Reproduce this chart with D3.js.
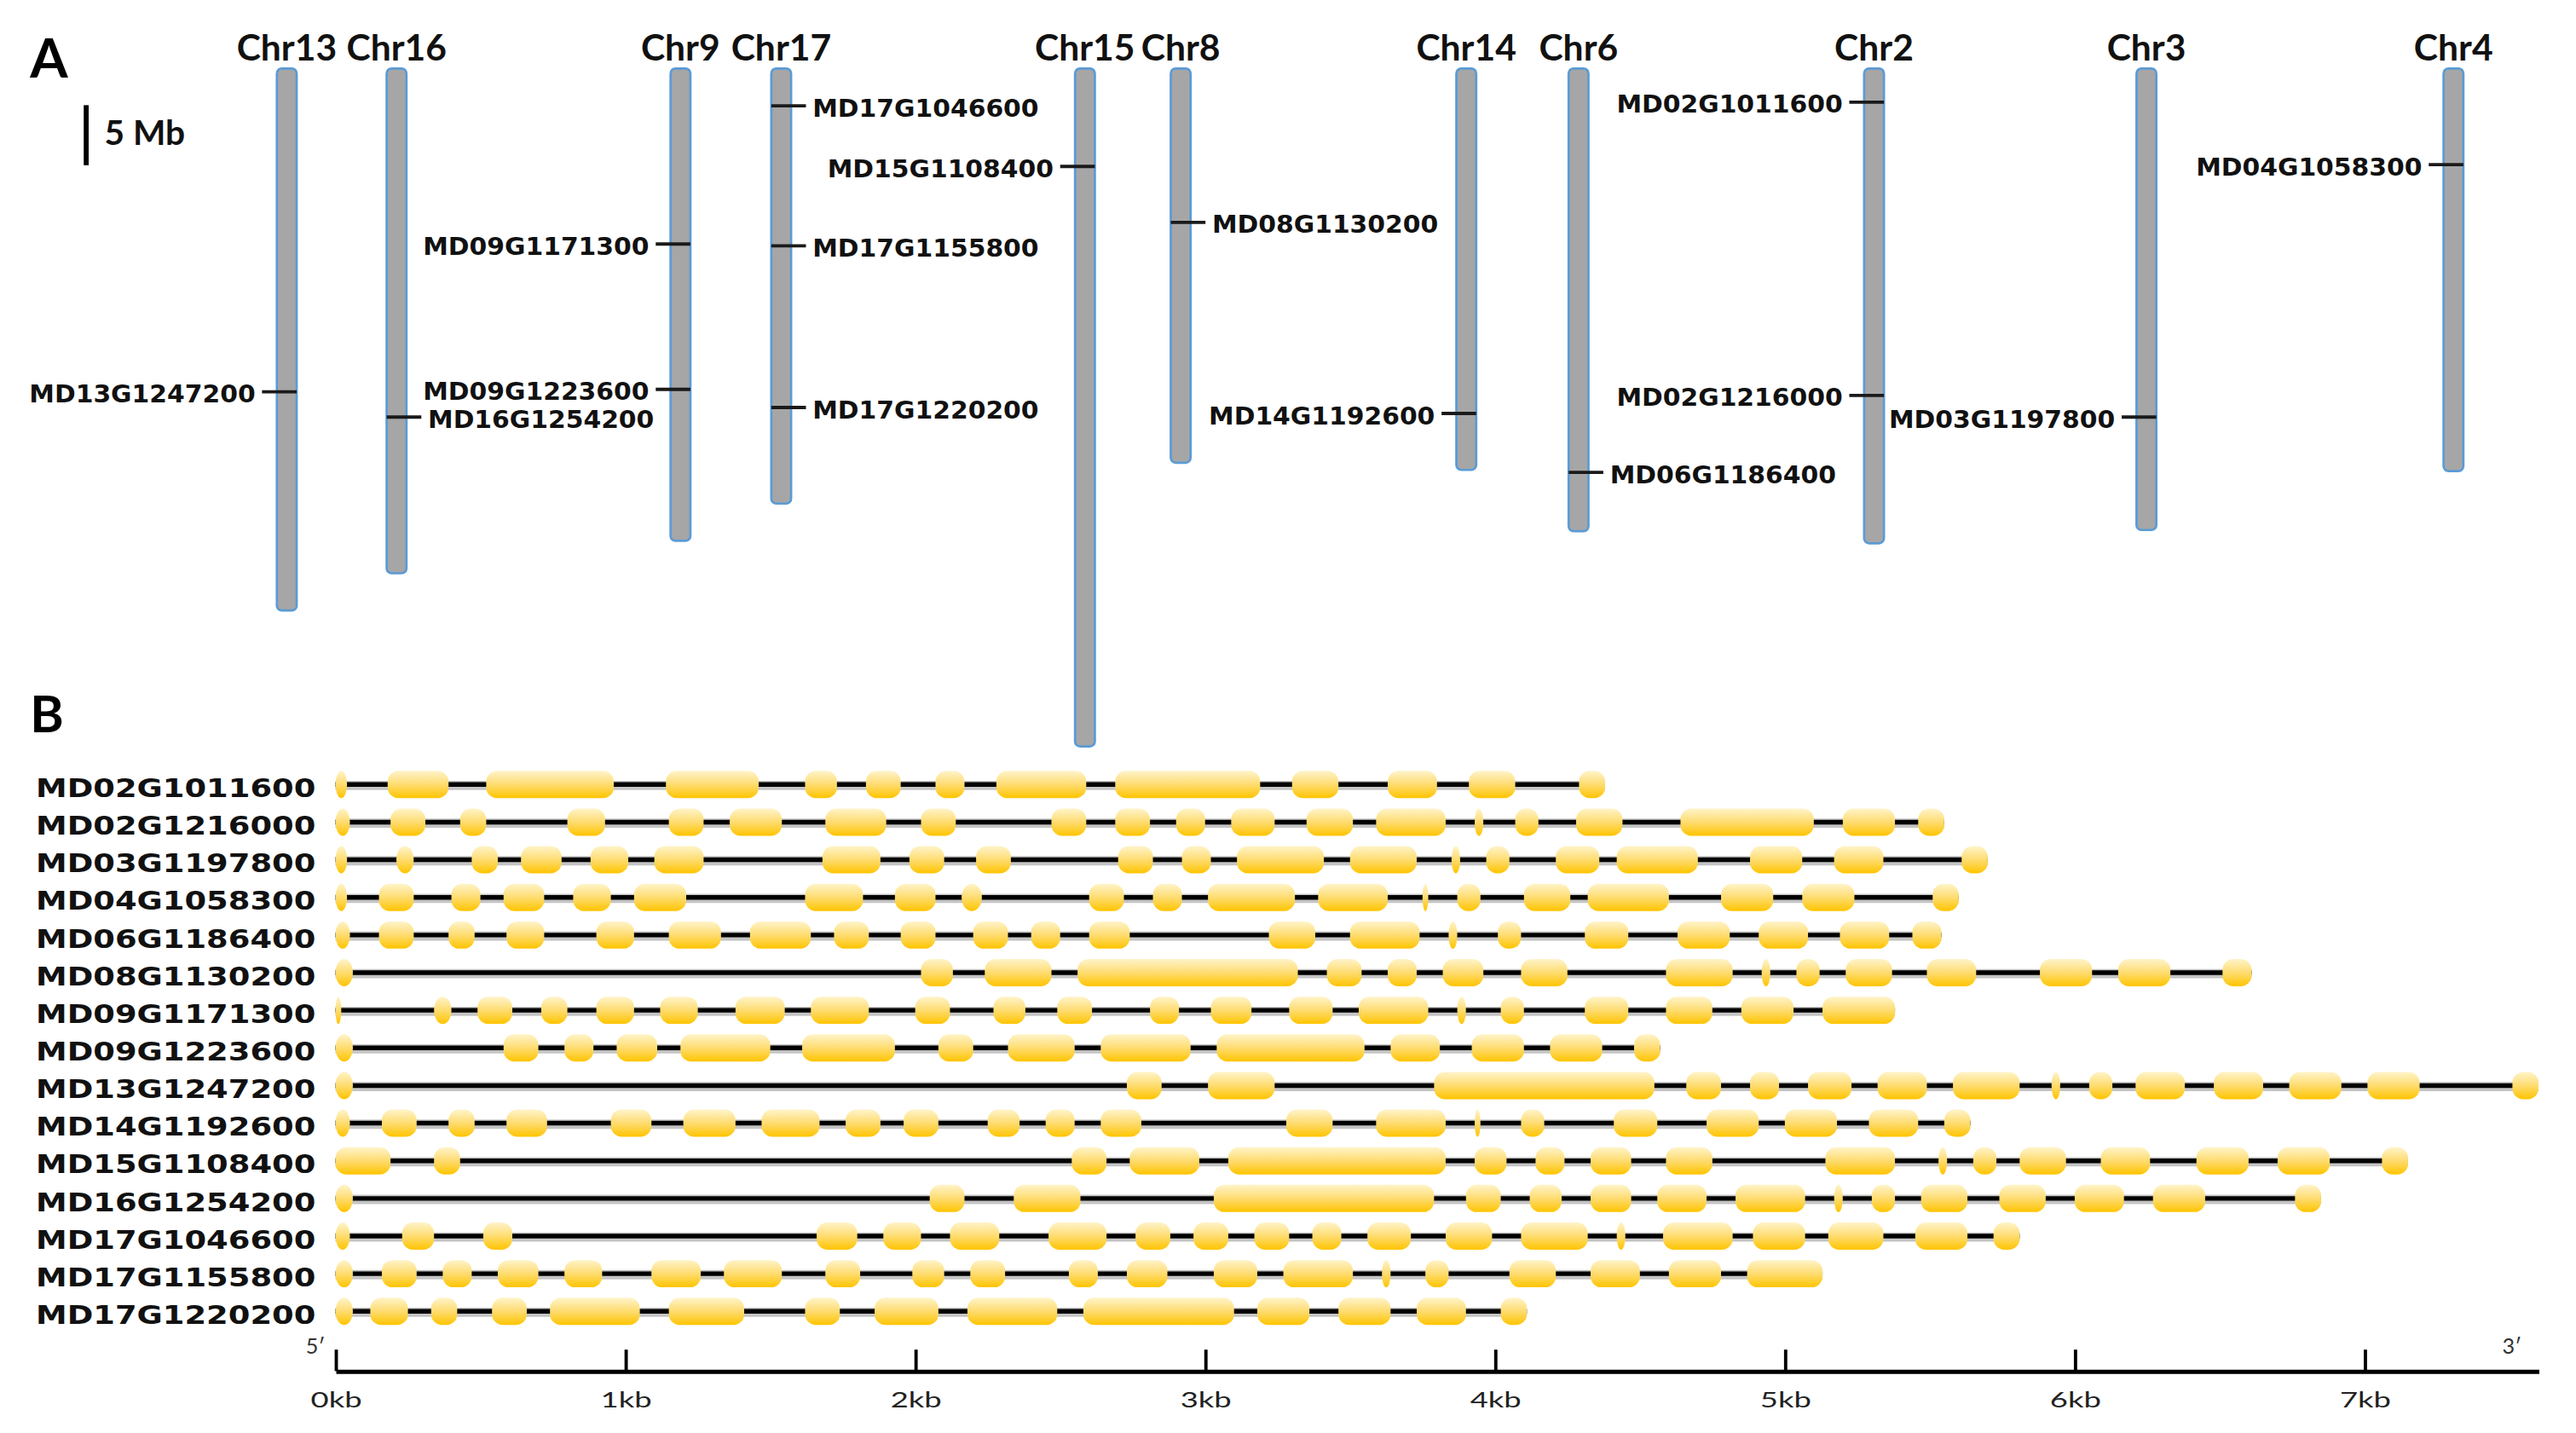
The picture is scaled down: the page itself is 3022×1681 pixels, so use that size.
<!DOCTYPE html>
<html>
<head>
<meta charset="utf-8">
<script src="https://cdn.jsdelivr.net/npm/d3@7"></script>
<style>
html,body{margin:0;padding:0;background:#fff;overflow:hidden}
svg{display:block}
</style>
</head>
<body>
<svg id="chart"></svg>
<script>
// ---------------- Panel A data ----------------
const chromosomes = ["Chr13","Chr16","Chr9","Chr17","Chr15","Chr8","Chr14","Chr6","Chr2","Chr3","Chr4"];
const chrLengthMb = [45.1, 42.0, 39.3, 36.2, 56.4, 32.8, 33.4, 38.5, 39.5, 38.4, 33.5];
const mappedGenes = ["MD13G1247200","MD16G1254200","MD09G1171300","MD09G1223600","MD17G1046600","MD17G1155800","MD17G1220200","MD15G1108400","MD08G1130200","MD14G1192600","MD06G1186400","MD02G1011600","MD02G1216000","MD03G1197800","MD04G1058300"];
const mappedChr = ["Chr13","Chr16","Chr9","Chr9","Chr17","Chr17","Chr17","Chr15","Chr8","Chr14","Chr6","Chr2","Chr2","Chr3","Chr4"];
const genePosMb = [26.9, 29.0, 14.6, 26.7, 3.1, 14.75, 28.2, 8.15, 12.8, 28.7, 33.6, 2.8, 27.2, 29.0, 8.0];
const labelSide = ["left","right","left","left","right","right","right","left","right","left","right","left","left","left","left"];
const scaleBarMb = 5;

// ---------------- Panel B data (exon start/end, kb) ----------------
const structureGenes = ["MD02G1011600","MD02G1216000","MD03G1197800","MD04G1058300","MD06G1186400","MD08G1130200","MD09G1171300","MD09G1223600","MD13G1247200","MD14G1192600","MD15G1108400","MD16G1254200","MD17G1046600","MD17G1155800","MD17G1220200"];
const ex_MD02G1011600 = [[0,0.04],[0.18,0.39],[0.52,0.96],[1.14,1.46],[1.62,1.73],[1.83,1.95],[2.07,2.17],[2.28,2.59],[2.69,3.19],[3.30,3.46],[3.63,3.80],[3.91,4.07],[4.29,4.38]];
const ex_MD02G1216000 = [[0,0.05],[0.19,0.31],[0.43,0.52],[0.80,0.93],[1.15,1.27],[1.36,1.54],[1.69,1.90],[2.02,2.14],[2.47,2.59],[2.69,2.81],[2.90,3.00],[3.09,3.24],[3.35,3.51],[3.59,3.83],[3.93,3.96],[4.07,4.15],[4.28,4.44],[4.64,5.10],[5.20,5.38],[5.46,5.55]];
const ex_MD03G1197800 = [[0,0.04],[0.21,0.27],[0.47,0.56],[0.64,0.78],[0.88,1.01],[1.10,1.27],[1.68,1.88],[1.98,2.10],[2.21,2.33],[2.70,2.82],[2.92,3.02],[3.11,3.41],[3.50,3.73],[3.85,3.88],[3.97,4.05],[4.21,4.36],[4.42,4.70],[4.88,5.06],[5.17,5.34],[5.61,5.70]];
const ex_MD04G1058300 = [[0,0.04],[0.15,0.27],[0.40,0.50],[0.58,0.72],[0.82,0.95],[1.03,1.21],[1.62,1.82],[1.93,2.07],[2.16,2.23],[2.60,2.72],[2.82,2.92],[3.01,3.31],[3.39,3.63],[3.75,3.77],[3.87,3.95],[4.10,4.26],[4.32,4.60],[4.78,4.96],[5.06,5.24],[5.51,5.60]];
const ex_MD06G1186400 = [[0,0.05],[0.15,0.27],[0.39,0.48],[0.59,0.72],[0.90,1.03],[1.15,1.33],[1.43,1.64],[1.72,1.84],[1.95,2.07],[2.20,2.32],[2.40,2.50],[2.60,2.74],[3.22,3.38],[3.50,3.74],[3.84,3.87],[4.01,4.09],[4.31,4.46],[4.63,4.81],[4.91,5.08],[5.19,5.36],[5.44,5.54]];
const ex_MD08G1130200 = [[0,0.06],[2.02,2.13],[2.24,2.47],[2.56,3.32],[3.42,3.54],[3.63,3.73],[3.82,3.96],[4.09,4.25],[4.59,4.82],[4.92,4.95],[5.04,5.12],[5.21,5.37],[5.49,5.66],[5.88,6.06],[6.15,6.33],[6.51,6.61]];
const ex_MD09G1171300 = [[0,0.02],[0.34,0.40],[0.49,0.61],[0.71,0.80],[0.90,1.03],[1.12,1.25],[1.38,1.55],[1.64,1.84],[2.00,2.12],[2.27,2.38],[2.49,2.61],[2.81,2.91],[3.02,3.16],[3.29,3.44],[3.53,3.77],[3.87,3.90],[4.02,4.10],[4.31,4.46],[4.59,4.75],[4.85,5.03],[5.13,5.38]];
const ex_MD09G1223600 = [[0,0.06],[0.58,0.70],[0.79,0.89],[0.97,1.11],[1.19,1.50],[1.61,1.93],[2.08,2.20],[2.32,2.55],[2.64,2.95],[3.04,3.55],[3.64,3.81],[3.92,4.10],[4.19,4.37],[4.48,4.57]];
const ex_MD13G1247200 = [[0,0.06],[2.73,2.85],[3.01,3.24],[3.79,4.55],[4.66,4.78],[4.88,4.98],[5.08,5.23],[5.32,5.49],[5.58,5.81],[5.92,5.95],[6.05,6.13],[6.21,6.38],[6.48,6.65],[6.74,6.92],[7.01,7.19],[7.51,7.60]];
const ex_MD14G1192600 = [[0,0.05],[0.16,0.28],[0.39,0.48],[0.59,0.73],[0.95,1.09],[1.20,1.38],[1.47,1.67],[1.76,1.88],[1.96,2.08],[2.25,2.36],[2.45,2.55],[2.64,2.78],[3.28,3.44],[3.59,3.83],[3.93,3.95],[4.09,4.17],[4.41,4.56],[4.73,4.91],[5.00,5.18],[5.29,5.46],[5.55,5.64]];
const ex_MD15G1108400 = [[0,0.19],[0.34,0.43],[2.54,2.66],[2.74,2.98],[3.08,3.83],[3.93,4.04],[4.14,4.24],[4.33,4.47],[4.59,4.75],[5.14,5.38],[5.53,5.56],[5.65,5.73],[5.81,5.97],[6.09,6.26],[6.42,6.60],[6.70,6.88],[7.06,7.15]];
const ex_MD16G1254200 = [[0,0.06],[2.05,2.17],[2.34,2.57],[3.03,3.79],[3.90,4.02],[4.12,4.23],[4.33,4.47],[4.56,4.73],[4.83,5.07],[5.17,5.20],[5.30,5.38],[5.47,5.63],[5.74,5.90],[6.00,6.17],[6.27,6.45],[6.76,6.85]];
const ex_MD17G1046600 = [[0,0.05],[0.23,0.34],[0.51,0.61],[1.66,1.80],[1.89,2.02],[2.12,2.29],[2.46,2.66],[2.76,2.88],[2.96,3.08],[3.17,3.29],[3.37,3.47],[3.56,3.71],[3.83,3.99],[4.09,4.32],[4.42,4.45],[4.58,4.82],[4.89,5.07],[5.15,5.34],[5.45,5.63],[5.72,5.81]];
const ex_MD17G1155800 = [[0,0.06],[0.16,0.28],[0.37,0.47],[0.56,0.70],[0.79,0.92],[1.09,1.26],[1.34,1.54],[1.69,1.81],[1.99,2.10],[2.19,2.31],[2.53,2.63],[2.73,2.87],[3.03,3.18],[3.27,3.51],[3.61,3.64],[3.76,3.84],[4.05,4.21],[4.33,4.50],[4.60,4.78],[4.87,5.13]];
const ex_MD17G1220200 = [[0,0.06],[0.12,0.25],[0.33,0.42],[0.54,0.66],[0.74,1.05],[1.15,1.41],[1.62,1.74],[1.86,2.08],[2.18,2.49],[2.58,3.10],[3.18,3.36],[3.46,3.64],[3.73,3.90],[4.02,4.11]];
const tickKb = [0,1,2,3,4,5,6,7];
const axisMaxKb = 7.6;

const exonTable = [ex_MD02G1011600, ex_MD02G1216000, ex_MD03G1197800, ex_MD04G1058300, ex_MD06G1186400,
  ex_MD08G1130200, ex_MD09G1171300, ex_MD09G1223600, ex_MD13G1247200, ex_MD14G1192600, ex_MD15G1108400,
  ex_MD16G1254200, ex_MD17G1046600, ex_MD17G1155800, ex_MD17G1220200];

// ---------------- Layout ----------------
const W = 1560, H = 868;
const layout = {
  chrColumnX: [173.5, 240, 412, 473, 657, 715, 888, 956, 1135, 1300, 1486],
  chrTop: 41.5, pxPerMb: 7.28, chrWidth: 12,
  kbLeft: 203, kbRight: 1537.5,
  rowTop: 475.2, rowBottom: 794.3, axisY: 830.5
};

const svg = d3.select("#chart").attr("width", 3022).attr("height", 1681)
  .attr("viewBox", `0 0 ${W} ${H}`);

const defs = svg.append("defs");
const grad = defs.append("linearGradient").attr("id", "exonGrad")
  .attr("x1", 0).attr("y1", 0).attr("x2", 0).attr("y2", 1);
grad.append("stop").attr("offset", "0%").attr("stop-color", "#fff4ca");
grad.append("stop").attr("offset", "50%").attr("stop-color", "#fedc70");
grad.append("stop").attr("offset", "100%").attr("stop-color", "#ffc400");

// ---------------- Panel A ----------------
const yMb = d3.scaleLinear().domain([0, 60])
  .range([layout.chrTop, layout.chrTop + 60 * layout.pxPerMb]);
const chrX = d3.scaleOrdinal().domain(chromosomes).range(layout.chrColumnX);
const chrData = chromosomes.map((c, i) => ({name: c, len: chrLengthMb[i]}));

svg.append("text").attr("x", 18).attr("y", 47).text("A")
  .attr("font-family", "Lato").attr("font-weight", 700).attr("font-size", 33).attr("fill", "#000");

const gA = svg.append("g");
gA.selectAll("rect.chr").data(chrData).join("rect").attr("class", "chr")
  .attr("x", d => chrX(d.name) - layout.chrWidth / 2)
  .attr("y", yMb(0))
  .attr("width", layout.chrWidth)
  .attr("height", d => yMb(d.len) - yMb(0))
  .attr("rx", 3).attr("ry", 3)
  .attr("fill", "#a6a6a6").attr("stroke", "#5b9bd5").attr("stroke-width", 1.4);

gA.selectAll("text.chrlab").data(chrData).join("text").attr("class", "chrlab")
  .attr("x", d => chrX(d.name)).attr("y", 36.5)
  .attr("text-anchor", "middle")
  .attr("font-family", "Lato").attr("font-weight", 700).attr("font-size", 22)
  .attr("fill", "#111").text(d => d.name);

// scale bar
gA.append("line").attr("x1", 52).attr("x2", 52)
  .attr("y1", 63.7).attr("y2", 63.7 + (yMb(scaleBarMb) - yMb(0)))
  .attr("stroke", "#000").attr("stroke-width", 3);
gA.append("text").attr("x", 63).attr("y", 88).text(scaleBarMb + " Mb")
  .attr("font-family", "Lato").attr("font-weight", 700).attr("font-size", 21).attr("fill", "#111");

const markers = mappedGenes.map((g, i) => ({gene: g, chr: mappedChr[i], pos: genePosMb[i], side: labelSide[i]}));
const half = layout.chrWidth / 2;
gA.selectAll("line.mk").data(markers).join("line").attr("class", "mk")
  .attr("x1", d => d.side === "left" ? chrX(d.chr) + half : chrX(d.chr) - half)
  .attr("x2", d => d.side === "left" ? chrX(d.chr) - half - 9 : chrX(d.chr) + half + 9)
  .attr("y1", d => yMb(d.pos)).attr("y2", d => yMb(d.pos))
  .attr("stroke", "#1a1a1a").attr("stroke-width", 2);
gA.selectAll("text.mklab").data(markers).join("text").attr("class", "mklab")
  .attr("x", d => d.side === "left" ? chrX(d.chr) - half - 13 : chrX(d.chr) + half + 13)
  .attr("y", d => yMb(d.pos) + 6.5)
  .attr("text-anchor", d => d.side === "left" ? "end" : "start")
  .attr("font-family", "DejaVu Sans").attr("font-weight", 700).attr("font-size", 15)
  .attr("textLength", 137).attr("lengthAdjust", "spacingAndGlyphs")
  .attr("fill", "#111").text(d => d.gene);

// ---------------- Panel B ----------------
svg.append("text").attr("x", 18).attr("y", 443.3).text("B")
  .attr("font-family", "Lato").attr("font-weight", 700).attr("font-size", 31).attr("fill", "#000");

const xKb = d3.scaleLinear().domain([0, axisMaxKb]).range([layout.kbLeft, layout.kbRight]);
const yGene = d3.scalePoint().domain(structureGenes).range([layout.rowTop, layout.rowBottom]);
const genes = structureGenes.map((g, i) => ({gene: g, exons: exonTable[i], end: d3.max(exonTable[i], e => e[1])}));

const gB = svg.append("g");
const rows = gB.selectAll("g.row").data(genes).join("g").attr("class", "row")
  .attr("transform", d => `translate(0,${yGene(d.gene)})`);

rows.append("line").attr("x1", xKb(0)).attr("x2", d => xKb(d.end))
  .attr("y1", 0.6).attr("y2", 0.6).attr("stroke", "#c4c4c4").attr("stroke-width", 5.6);
rows.append("line").attr("x1", xKb(0)).attr("x2", d => xKb(d.end))
  .attr("y1", 0).attr("y2", 0).attr("stroke", "#000").attr("stroke-width", 2.8);

const exH = 16.5;
rows.selectAll("rect.exon").data(d => d.exons).join("rect").attr("class", "exon")
  .attr("x", e => xKb(e[0]))
  .attr("width", e => Math.max(xKb(e[1]) - xKb(e[0]), 2.5))
  .attr("y", -exH / 2).attr("height", exH)
  .attr("rx", e => Math.min((xKb(e[1]) - xKb(e[0])) / 2, 6.5))
  .attr("ry", e => ((xKb(e[1]) - xKb(e[0])) / 2 < 6.5) ? exH / 2 : 6.5)
  .attr("fill", "url(#exonGrad)");

rows.append("text").attr("x", 21.5).attr("y", 7.6).text(d => d.gene)
  .attr("font-family", "DejaVu Sans").attr("font-weight", 700).attr("font-size", 15.5)
  .attr("textLength", 169.5).attr("lengthAdjust", "spacingAndGlyphs").attr("fill", "#111");

// axis
const axis = d3.axisBottom(xKb).tickValues(tickKb).tickFormat(d => d + "kb")
  .tickSizeInner(-13).tickSizeOuter(0).tickPadding(13);
const gAxis = svg.append("g").attr("transform", `translate(0,${layout.axisY})`).call(axis);
gAxis.select(".domain").attr("stroke", "#000").attr("stroke-width", 2.6);
gAxis.selectAll(".tick line").attr("stroke", "#000").attr("stroke-width", 2);
gAxis.selectAll(".tick text").attr("font-family", "Lato").attr("font-size", 13).attr("fill", "#222")
  .attr("textLength", 31).attr("lengthAdjust", "spacingAndGlyphs");

svg.append("text").attr("x", xKb(0) - 18).attr("y", 820).text("5′")
  .attr("font-family", "Lato").attr("font-size", 13).attr("fill", "#333");
svg.append("text").attr("x", xKb(axisMaxKb) - 22).attr("y", 820).text("3′")
  .attr("font-family", "Lato").attr("font-size", 13).attr("fill", "#333");
</script>
</body>
</html>
